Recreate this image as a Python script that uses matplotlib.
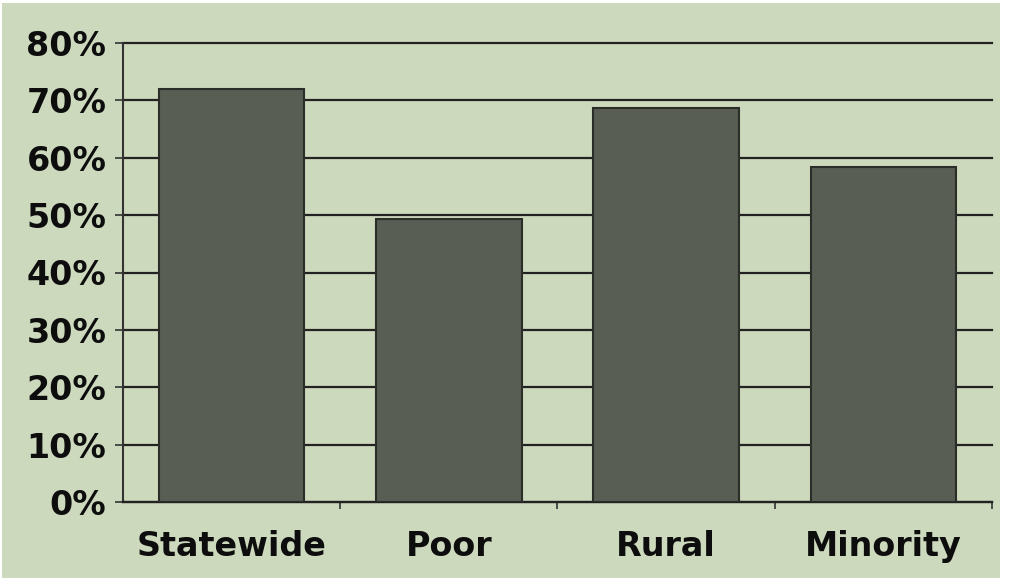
import matplotlib.pyplot as plt
from matplotlib.patches import Rectangle
from matplotlib.ticker import FixedLocator

categories = ['Statewide', 'Poor', 'Rural', 'Minority']
values = [72.0, 49.3, 68.7, 58.4]
yticks = [0, 10, 20, 30, 40, 50, 60, 70, 80]

BG = '#cdd9bd'
BAR = '#585e54'
INK = '#0d0d0d'

fig = plt.figure(figsize=(10.2, 5.78), dpi=100, facecolor='white')
# green panel (white strip at right edge of the original)
fig.patches.append(Rectangle((2 / 1020, 0), 998 / 1020, 575 / 578,
                             transform=fig.transFigure, facecolor=BG,
                             edgecolor='none', zorder=-10))

ax = fig.add_axes([123 / 1020, 1 - 502 / 578, 869 / 1020, 459 / 578])
ax.set_facecolor('none')

x = range(len(categories))
ax.bar(x, values, width=0.67, color=BAR, edgecolor='#2b2d29', linewidth=1.5, zorder=3)

ax.set_xlim(-0.5, 3.5)
ax.set_ylim(0, 80)
ax.set_yticks(yticks)
ax.set_yticklabels([f'{v}%' for v in yticks])
ax.yaxis.grid(True, color='#222222', linewidth=1.6, zorder=0)
for gl in ax.get_ygridlines():
    gl.set_clip_on(False)
ax.set_axisbelow(True)

ax.set_xticks(list(x))
ax.set_xticklabels(categories)
ax.xaxis.set_minor_locator(FixedLocator([0.5, 1.5, 2.5, 3.5]))
ax.tick_params(axis='x', which='major', length=0, pad=20)
ax.tick_params(axis='x', which='minor', length=5, width=1.2, color='#333333')
ax.tick_params(axis='y', length=6, width=1.2, color='#333333', pad=6)

for lab in ax.get_xticklabels() + ax.get_yticklabels():
    lab.set_fontsize(24)
    lab.set_fontweight('heavy')
    lab.set_color(INK)

for side in ['top', 'right']:
    ax.spines[side].set_visible(False)
ax.spines['left'].set_color('#333333')
ax.spines['left'].set_linewidth(1.5)
ax.spines['bottom'].set_color('#222222')
ax.spines['bottom'].set_linewidth(1.6)

fig.savefig('out.png', dpi=100, facecolor='white')
